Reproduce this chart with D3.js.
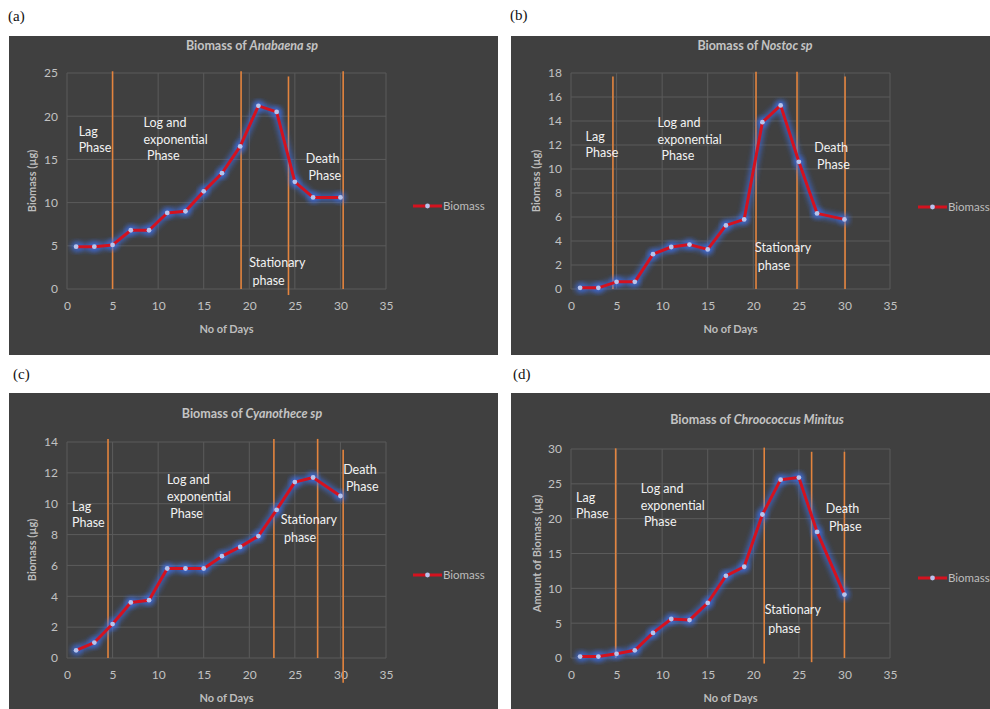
<!DOCTYPE html>
<html><head><meta charset="utf-8">
<script src="https://cdn.jsdelivr.net/npm/d3@7"></script>
<style>
html,body{margin:0;padding:0;background:#fff;}
svg{display:block;}
</style></head>
<body>
<svg id="chart" width="990" height="709"></svg>
<script>
// ---------- DATA ----------
const days = [1, 3, 5, 7, 9, 11, 13, 15, 17, 19, 21, 23, 25, 27, 30];
const anabaena    = [4.9, 4.9, 5.1, 6.8, 6.8, 8.8, 9.0, 11.3, 13.4, 16.5, 21.2, 20.5, 12.4, 10.6, 10.6];
const nostoc      = [0.1, 0.1, 0.6, 0.6, 2.9, 3.5, 3.7, 3.3, 5.3, 5.8, 13.9, 15.3, 10.6, 6.3, 5.8];
const cyanothece  = [0.5, 1.0, 2.2, 3.6, 3.75, 5.8, 5.8, 5.8, 6.6, 7.2, 7.9, 9.6, 11.4, 11.7, 10.5];
const chroococcus = [0.2, 0.2, 0.6, 1.1, 3.6, 5.6, 5.45, 7.9, 11.8, 13.1, 20.6, 25.6, 25.9, 18.1, 9.1];

const xTicks = [0, 5, 10, 15, 20, 25, 30, 35];
const yTicksA = [0, 5, 10, 15, 20, 25];
const yTicksB = [0, 2, 4, 6, 8, 10, 12, 14, 16, 18];
const yTicksC = [0, 2, 4, 6, 8, 10, 12, 14];
const yTicksD = [0, 5, 10, 15, 20, 25, 30];

// phase boundary lines: day, bottom value, top value
const phasesA = [[5, 0, 25.2], [19.1, 0, 25.2], [24.3, -0.7, 24.6], [30.3, 0, 25.2]];
const phasesB = [[4.6, 0, 17.7], [20.3, 0, 18.1], [24.8, 0, 18.1], [30.07, 0, 17.7]];
const phasesC = [[4.5, 0, 14.2], [22.7, 0, 14.2], [27.5, 0, 14.2], [30.3, -1.6, 13.5]];
const phasesD = [[4.9, 0, 30.1], [21.2, -0.8, 30.2], [26.4, -0.6, 29.6], [30.0, 0, 29.6]];

const seriesName = "Biomass";
const xTitle = "No of Days";

// ---------- LAYOUT ----------
const panels = [
  { tag: "(a)", tagX: 8, tagY: 21,
    box: [9, 36, 489, 319], plot: [67, 386, 73, 289],
    title: ["Biomass  of ", "Anabaena  sp"], titleX: 252, titleY: 50,
    yTitle: "Biomass (µg)", yTitleX: 32, legend: [413, 206],
    values: anabaena, yTicks: yTicksA, phases: phasesA,
    notes: [["Lag", 1.28, 18.17], ["Phase", 1.28, 16.4],
            ["Log and", 8.4, 19.25], ["exponential", 8.4, 17.3], ["Phase", 8.77, 15.4],
            ["Death", 26.2, 15.1], ["Phase", 26.5, 13.1],
            ["Stationary", 20.0, 3.05], ["phase", 20.35, 0.93]] },
  { tag: "(b)", tagX: 510, tagY: 20,
    box: [511, 36, 479, 319], plot: [571, 890, 73, 289],
    title: ["Biomass of ", "Nostoc sp"], titleX: 755, titleY: 50,
    yTitle: "Biomass (µg)", yTitleX: 536, legend: [918, 207],
    values: nostoc, yTicks: yTicksB, phases: phasesB,
    notes: [["Lag", 1.6, 12.67], ["Phase", 1.6, 11.4],
            ["Log and", 9.5, 13.86], ["exponential", 9.5, 12.44], ["Phase", 9.94, 11.1],
            ["Death", 26.7, 11.8], ["Phase", 27.0, 10.36],
            ["Stationary", 20.2, 3.44], ["phase", 20.5, 1.94]] },
  { tag: "(c)", tagX: 13, tagY: 379,
    box: [9, 393, 489, 316], plot: [67, 386, 442, 658],
    title: ["Biomass of ", "Cyanothece sp"], titleX: 252, titleY: 418,
    yTitle: "Biomass (µg)", yTitleX: 32, legend: [413, 575],
    values: cyanothece, yTicks: yTicksC, phases: phasesC,
    notes: [["Lag", 0.55, 9.8], ["Phase", 0.55, 8.8],
            ["Log and", 10.96, 11.58], ["exponential", 10.96, 10.45], ["Phase", 11.33, 9.37],
            ["Stationary", 23.46, 8.98], ["phase", 23.8, 7.79],
            ["Death", 30.3, 12.23], ["Phase", 30.6, 11.1]] },
  { tag: "(d)", tagX: 513, tagY: 379,
    box: [511, 393, 479, 316], plot: [571, 890, 449, 658],
    title: ["Biomass of ", "Chroococcus  Minitus"], titleX: 757, titleY: 424,
    yTitle: "Amount of Biomass (µg)", yTitleX: 537, legend: [918, 578],
    values: chroococcus, yTicks: yTicksD, phases: phasesD,
    notes: [["Lag", 0.55, 22.97], ["Phase", 0.55, 20.77],
            ["Log and", 7.64, 24.35], ["exponential", 7.64, 21.87], ["Phase", 8.0, 19.52],
            ["Death", 27.95, 21.39], ["Phase", 28.3, 18.9],
            ["Stationary", 21.26, 6.89], ["phase", 21.63, 4.26]] }
];

const FONT = "Lato, 'Open Sans', sans-serif";
const svg = d3.select("#chart");

const defs = svg.append("defs");
defs.append("filter").attr("id", "glow").attr("x", "-20%").attr("y", "-20%")
  .attr("width", "140%").attr("height", "140%")
  .append("feGaussianBlur").attr("stdDeviation", 2.4);

panels.forEach(p => {
  const [bx, by, bw, bh] = p.box;
  const [L, R, T, B] = p.plot;
  const x = d3.scaleLinear().domain([0, 35]).range([L, R]);
  const yMax = p.yTicks[p.yTicks.length - 1];
  const y = d3.scaleLinear().domain([0, yMax]).range([B, T]);

  // panel label
  svg.append("text").attr("x", p.tagX).attr("y", p.tagY)
    .attr("font-family", "'Liberation Serif', 'Times New Roman', serif")
    .attr("font-size", 15).attr("fill", "#111").text(p.tag);

  const g = svg.append("g");
  g.append("rect").attr("x", bx).attr("y", by).attr("width", bw).attr("height", bh)
    .attr("fill", "#404040");

  // gridlines
  g.append("g").selectAll("line").data(p.yTicks).join("line")
    .attr("x1", L).attr("x2", R).attr("y1", d => y(d)).attr("y2", d => y(d))
    .attr("stroke", "#5b5b5b").attr("stroke-width", 1);
  g.append("g").selectAll("line").data(xTicks).join("line")
    .attr("x1", d => x(d)).attr("x2", d => x(d)).attr("y1", T).attr("y2", B)
    .attr("stroke", "#5b5b5b").attr("stroke-width", 1);

  // axes (labels only)
  const xa = g.append("g").attr("transform", `translate(0,${B})`)
    .call(d3.axisBottom(x).tickValues(xTicks).tickSize(0).tickPadding(12));
  const ya = g.append("g").attr("transform", `translate(${L},0)`)
    .call(d3.axisLeft(y).tickValues(p.yTicks).tickSize(0).tickPadding(9));
  [xa, ya].forEach(a => {
    a.select(".domain").remove();
    a.selectAll("text").attr("font-family", FONT).attr("font-size", 12)
      .attr("fill", "#c2c2c2");
  });

  // phase lines
  g.append("g").selectAll("line").data(p.phases).join("line")
    .attr("x1", d => x(d[0])).attr("x2", d => x(d[0]))
    .attr("y1", d => y(d[1])).attr("y2", d => y(d[2]))
    .attr("stroke", "#e3843e").attr("stroke-width", 1.6);

  // series
  const pts = days.map((d, i) => [d, p.values[i]]);
  const line = d3.line().x(d => x(d[0])).y(d => y(d[1]));
  g.append("path").datum(pts).attr("d", line).attr("fill", "none")
    .attr("stroke", "#3d72ec").attr("stroke-width", 8).attr("stroke-opacity", 0.6)
    .attr("stroke-linejoin", "round").attr("filter", "url(#glow)");
  g.append("g").selectAll("circle").data(pts).join("circle")
    .attr("cx", d => x(d[0])).attr("cy", d => y(d[1])).attr("r", 5.5)
    .attr("fill", "#3d72ec").attr("fill-opacity", 0.6).attr("filter", "url(#glow)");
  g.append("path").datum(pts).attr("d", line).attr("fill", "none")
    .attr("stroke", "#d4121f").attr("stroke-width", 3).attr("stroke-linejoin", "round");
  g.append("g").selectAll("circle.m").data(pts).join("circle")
    .attr("cx", d => x(d[0])).attr("cy", d => y(d[1])).attr("r", 2.4)
    .attr("fill", "#b6c4ee");

  // annotations
  g.append("g").selectAll("text").data(p.notes).join("text")
    .attr("x", d => x(d[1])).attr("y", d => y(d[2]))
    .attr("dy", "0.35em")
    .attr("font-family", FONT).attr("font-size", 12.5).attr("fill", "#f2f2f2")
    .text(d => d[0]);

  // title
  const t = g.append("text").attr("x", p.titleX).attr("y", p.titleY)
    .attr("text-anchor", "middle").attr("font-family", FONT).attr("font-size", 12.5)
    .attr("font-weight", "bold").attr("fill", "#c4c4c4");
  t.append("tspan").text(p.title[0]);
  t.append("tspan").attr("font-style", "italic").text(p.title[1]);

  // axis titles
  g.append("text").attr("x", (L + R) / 2).attr("y", B + 44)
    .attr("text-anchor", "middle").attr("font-family", FONT).attr("font-size", 11)
    .attr("font-weight", "bold").attr("fill", "#bdbdbd").text(xTitle);
  g.append("text")
    .attr("transform", `translate(${p.yTitleX},${(T + B) / 2}) rotate(-90)`)
    .attr("text-anchor", "middle").attr("dy", "0.35em").attr("font-family", FONT)
    .attr("font-size", 11).attr("font-weight", "bold").attr("fill", "#bdbdbd")
    .text(p.yTitle);

  // legend
  const [lx, ly] = p.legend;
  g.append("line").attr("x1", lx).attr("x2", lx + 29).attr("y1", ly).attr("y2", ly)
    .attr("stroke", "#d4121f").attr("stroke-width", 3);
  g.append("circle").attr("cx", lx + 14.5).attr("cy", ly).attr("r", 2.4).attr("fill", "#b6c4ee");
  g.append("text").attr("x", lx + 30).attr("y", ly).attr("dy", "0.35em")
    .attr("font-family", FONT).attr("font-size", 11.5).attr("fill", "#bdbdbd")
    .text(seriesName);
});
</script>
</body></html>
